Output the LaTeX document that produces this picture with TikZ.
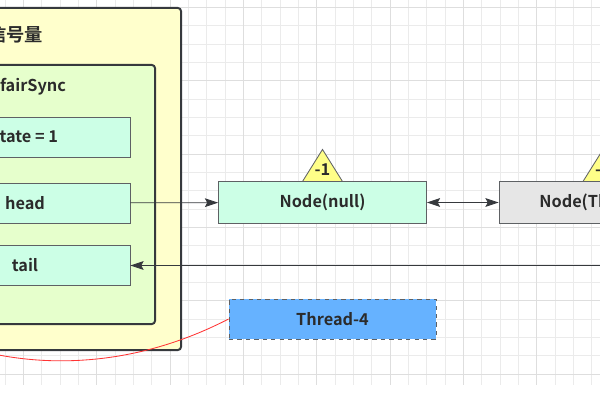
\documentclass[tikz,border=0pt]{standalone}
\usepackage{fontspec}
\setmainfont{Noto Sans CJK SC}[BoldFont={Noto Sans CJK SC Bold}]
\usetikzlibrary{arrows.meta}

\definecolor{semyellow}{HTML}{FFFFCC}
\definecolor{syncgreen}{HTML}{E6FFCC}
\definecolor{fieldmint}{HTML}{CCFFE6}
\definecolor{waitgray}{HTML}{E6E6E6}
\definecolor{threadblue}{HTML}{66B2FF}
\definecolor{triyellow}{HTML}{FFFF88}
\definecolor{darkline}{HTML}{36393D}
\definecolor{txtc}{HTML}{2B2B2B}
\definecolor{linkred}{HTML}{FF3333}

\begin{document}
\begin{tikzpicture}[x=0.025cm, y=-0.025cm,
    >={Stealth[length=0.33cm,width=0.22cm,inset=0.06cm]},
    lbl/.style={font=\bfseries\fontsize{11.6}{14}\selectfont, text=txtc},
    container/.style={draw=darkline, line width=1.4pt, rounded corners=0.08cm},
    field/.style={draw=darkline!80, fill=fieldmint, line width=0.6pt,
      minimum width=5.25cm, minimum height=1cm, lbl},
    qnode/.style={draw=darkline!80, line width=0.6pt,
      minimum width=5.2cm, minimum height=1.03cm, lbl},
    flag/.style={draw=darkline!80, fill=triyellow, line width=0.6pt},
    link/.style={draw=darkline, line width=0.6pt},
    minorgrid/.style={draw=black!8, line width=0.4pt},
    majorgrid/.style={draw=black!13, line width=0.5pt}]
  \useasboundingbox (0,0) rectangle (600,400);
  \clip (0,0) rectangle (600,400);

  % background grid
  \foreach \i in {0,...,32}
    \draw[minorgrid] (5+18.333*\i,0) -- (5+18.333*\i,385);
  \foreach \j in {0,...,20}
    \draw[minorgrid] (0,7.33+18.333*\j) -- (600,7.33+18.333*\j);
  \foreach \i in {1,5,...,29}
    \draw[majorgrid] (5+18.333*\i,0) -- (5+18.333*\i,385);
  \foreach \j in {0,4,...,20}
    \draw[majorgrid] (0,7.33+18.333*\j) -- (600,7.33+18.333*\j);

  % semaphore and its sync
  \node[container, fill=semyellow, minimum width=7.525cm, minimum height=8.55cm]
    (sem) at (30.5,179) {};
  \node[lbl, anchor=east, font=\bfseries\fontsize{13}{15}\selectfont] (semtitle) at (48,35) {信号量};
  \node[container, fill=syncgreen, minimum width=6.375cm, minimum height=6.475cm]
    (sync) at (27.5,194.5) {};
  \node[lbl, anchor=east] (synctitle) at (71,87) {NonfairSync};

  \node[field] (state) at (25,137) {state = 1};
  \node[field] (head) at (25,203) {head};
  \node[field] (tail) at (25,265.5) {tail};

  % wait queue
  \node[qnode, fill=fieldmint] (nnull) at (322.5,202.5) {Node(null)};
  \node[qnode, fill=waitgray] (nthread) at (603,202.5) {Node(Thread-1)};
  \draw[flag] (nnull.north) ++(-20,0) -- ++(20,-32) -- ++(20,32) -- cycle;
  \node[lbl] (wnull) at ([yshift=0.3cm]nnull.north) {-1};
  \draw[flag] (nthread.north) ++(-20,0) -- ++(20,-32) -- ++(20,32) -- cycle;
  \node[lbl] (wthread) at ([yshift=0.3cm]nthread.north) {-1};

  \node[qnode, fill=threadblue, dashed, minimum width=5.175cm, minimum height=1cm]
    (t4) at (332.5,319) {Thread-4};

  \coordinate (tailsrc) at (640,265.5);
  \coordinate (redend) at (-40,345);

  \draw[link, ->] (head) -- (nnull);
  \draw[link, <->] (nnull) -- (nthread);
  \draw[link, ->] (tailsrc) -- (tail);
  \draw[linkred, line width=0.6pt] (t4.west) .. controls (120,375) and (20,365) .. (redend);
\end{tikzpicture}
\end{document}
